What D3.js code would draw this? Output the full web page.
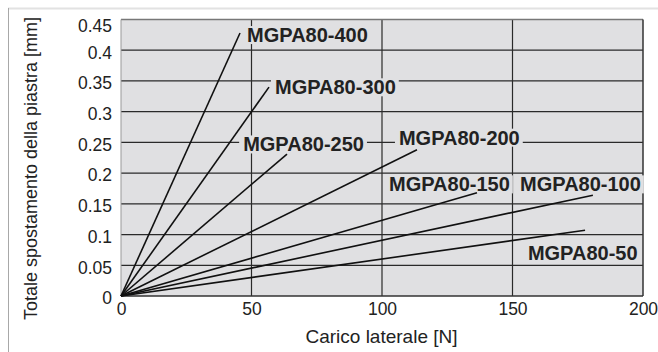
<!DOCTYPE html>
<html>
<head>
<meta charset="utf-8">
<script src="https://cdn.jsdelivr.net/npm/d3@7"></script>
<style>
  body { margin: 0; background: #fff; }
  text { font-family: "Liberation Sans", Arial, sans-serif; }
</style>
</head>
<body>
<svg id="chart" width="658" height="352"></svg>
<script>
// models and end point of each line (load N, displacement mm)
var models = ["MGPA80-400", "MGPA80-300", "MGPA80-250", "MGPA80-200", "MGPA80-150", "MGPA80-100", "MGPA80-50"];
var endLoad = [45.6, 56.7, 63.6, 113.4, 136.4, 180.8, 177.8];
var endDisp = [0.428, 0.340, 0.231, 0.238, 0.168, 0.164, 0.107];
// label anchors (load, displacement) for each model
var labelLoad = [48.3, 59.0, 46.8, 106.5, 102.7, 152.9, 155.9];
var labelDisp = [0.425, 0.340, 0.247, 0.258, 0.182, 0.182, 0.070];

var xTicks = [0, 50, 100, 150, 200];
var yTicks = [0, 0.05, 0.1, 0.15, 0.2, 0.25, 0.3, 0.35, 0.4, 0.45];

var svg = d3.select("#chart");
var pLeft = 121, pRight = 643, pTop = 19.5, pBottom = 296;

var x = d3.scaleLinear().domain([0, 200]).range([pLeft, pRight]);
var y = d3.scaleLinear().domain([0, 0.45]).range([pBottom, pTop]);

// outer frame
svg.append("line").attr("x1", 8).attr("x2", 658).attr("y1", 8.5).attr("y2", 8.5)
    .attr("stroke", "#e2e2e2").attr("stroke-width", 2);
svg.append("line").attr("x1", 8.5).attr("x2", 8.5).attr("y1", 8).attr("y2", 352)
    .attr("stroke", "#a8a8a8").attr("stroke-width", 1);

svg.append("rect")
    .attr("x", pLeft).attr("y", pTop)
    .attr("width", pRight - pLeft).attr("height", pBottom - pTop)
    .attr("fill", "#e0e0e2");

// grid
svg.selectAll(".hgrid")
    .data(yTicks.slice(1, -1))
  .enter().append("line")
    .attr("class", "hgrid")
    .attr("x1", pLeft).attr("x2", pRight)
    .attr("y1", function (d) { return y(d); }).attr("y2", function (d) { return y(d); })
    .attr("stroke", "#2a2a2a").attr("stroke-width", 1.2);

svg.selectAll(".vgrid")
    .data(xTicks.slice(1, -1))
  .enter().append("line")
    .attr("class", "vgrid")
    .attr("x1", function (d) { return x(d); }).attr("x2", function (d) { return x(d); })
    .attr("y1", pTop).attr("y2", pBottom)
    .attr("stroke", "#2a2a2a").attr("stroke-width", 1.2);

// plot border
svg.append("line").attr("x1", pLeft).attr("x2", pRight).attr("y1", pTop).attr("y2", pTop)
    .attr("stroke", "#777").attr("stroke-width", 1.5);
svg.append("line").attr("x1", pLeft).attr("x2", pLeft).attr("y1", pTop).attr("y2", pBottom)
    .attr("stroke", "#999").attr("stroke-width", 1);
svg.append("line").attr("x1", pRight).attr("x2", pRight).attr("y1", pTop).attr("y2", pBottom)
    .attr("stroke", "#333").attr("stroke-width", 1.5);
svg.append("line").attr("x1", pLeft).attr("x2", pRight).attr("y1", pBottom).attr("y2", pBottom)
    .attr("stroke", "#333").attr("stroke-width", 1.5);

// labels with background
var labels = svg.selectAll(".lab")
    .data(models)
  .enter().append("g")
    .attr("class", "lab");

labels.append("text")
    .attr("x", function (d, i) { return x(labelLoad[i]); })
    .attr("y", function (d, i) { return y(labelDisp[i]); })
    .attr("dy", "0.36em")
    .attr("font-size", 20)
    .attr("font-weight", "bold")
    .attr("fill", "#222")
    .text(function (d) { return d; });

labels.each(function () {
  var g = d3.select(this);
  var bb = g.select("text").node().getBBox();
  g.insert("rect", "text")
      .attr("x", bb.x - 4).attr("y", bb.y + 2)
      .attr("width", bb.width + 7).attr("height", bb.height - 4)
      .attr("fill", "#e0e0e2");
});

// lines from origin
svg.selectAll(".series")
    .data(models)
  .enter().append("line")
    .attr("class", "series")
    .attr("x1", x(0)).attr("y1", y(0))
    .attr("x2", function (d, i) { return x(endLoad[i]); })
    .attr("y2", function (d, i) { return y(endDisp[i]); })
    .attr("stroke", "#111").attr("stroke-width", 1.6);

// axes
var xAxis = svg.append("g")
    .attr("transform", "translate(0," + pBottom + ")")
    .call(d3.axisBottom(x).tickValues(xTicks).tickSize(0).tickPadding(7).tickFormat(d3.format("d")));
var yAxis = svg.append("g")
    .attr("transform", "translate(" + pLeft + ",0)")
    .call(d3.axisLeft(y).tickValues(yTicks).tickSize(0).tickPadding(9).tickFormat(function (d) { return String(+d.toFixed(2)); }));
[xAxis, yAxis].forEach(function (a) {
  a.select(".domain").remove();
  a.selectAll("text").attr("font-size", 17.5).attr("fill", "#222")
      .attr("font-family", "Liberation Sans, Arial, sans-serif");
});
yAxis.selectAll("text").attr("dy", "0.45em");
yAxis.selectAll(".tick").filter(function (d) { return d === 0.45; })
    .select("text").attr("dy", "0.7em");

svg.append("text")
    .attr("x", 381.5).attr("y", 343)
    .attr("text-anchor", "middle")
    .attr("font-size", 19).attr("fill", "#222")
    .text("Carico laterale [N]");

svg.append("text")
    .attr("transform", "translate(37,168.5) rotate(-90)")
    .attr("text-anchor", "middle")
    .attr("font-size", 18).attr("fill", "#222")
    .text("Totale spostamento della piastra [mm]");
</script>
</body>
</html>
